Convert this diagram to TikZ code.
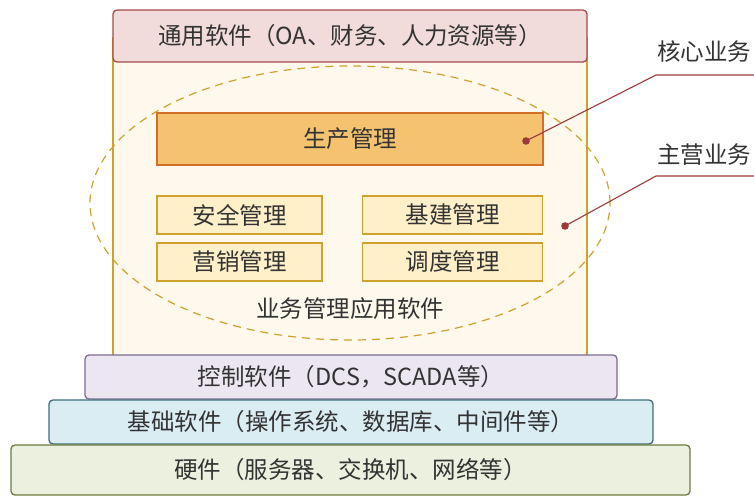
\documentclass[tikz,border=0pt]{standalone}
\usepackage{fontspec}
\setmainfont{Noto Sans CJK SC}
\usetikzlibrary{shapes.geometric}
\definecolor{txt}{HTML}{333333}
\definecolor{topfill}{HTML}{F2DCDB}
\definecolor{topline}{HTML}{A5494B}
\definecolor{bgfill}{HTML}{FEF9EC}
\definecolor{gold}{HTML}{CFA22E}
\definecolor{corefill}{HTML}{F5C370}
\definecolor{coreline}{HTML}{D2702A}
\definecolor{modfill}{HTML}{FFF0C9}
\definecolor{ctlfill}{HTML}{EBE6EF}
\definecolor{ctlline}{HTML}{7F6A93}
\definecolor{basfill}{HTML}{DAEDF3}
\definecolor{basline}{HTML}{3D6C79}
\definecolor{hwfill}{HTML}{EBF1DE}
\definecolor{hwline}{HTML}{6B7B40}
\definecolor{callout}{HTML}{9B3A3A}
\tikzset{
  every node/.style={text=txt, font=\fontsize{23.5}{26}\selectfont},
  layer/.style={draw, line width=1.3pt, rounded corners=4pt, inner sep=0pt},
  module/.style={draw=gold, fill=modfill, line width=1.3pt, inner sep=0pt},
  calloutline/.style={draw=callout, line width=1.1pt},
  calloutdot/.style={fill=callout},
}
\begin{document}
\begin{tikzpicture}[x=1pt, y=-1pt]
\useasboundingbox (0,0) rectangle (754,496);
% application software panel
\node (panel) [draw=gold, fill=bgfill, line width=1.3pt, minimum width=474, minimum height=318, inner sep=0pt] at (350,197) {};
\node (scope) [draw=gold, dashed, dash pattern=on 8pt off 6pt, line width=1.2pt, ellipse, minimum width=520, minimum height=274, inner sep=0pt] at (350,203) {};
% general software
\node (general) [layer, draw=topline, fill=topfill, minimum width=474, minimum height=52] at (350,36) {通用软件（OA、财务、人力资源等）};
% business modules
\node (prod) [draw=coreline, fill=corefill, line width=1.3pt, inner sep=0pt, minimum width=386, minimum height=52] at (350,139) {生产管理};
\node (safe) [module, minimum width=165, minimum height=38] at (239.5,215) {安全管理};
\node (build) [module, minimum width=180, minimum height=38] at (452.5,215) {基建管理};
\node (sales) [module, minimum width=165, minimum height=38] at (239.5,262) {营销管理};
\node (dispatch) [module, minimum width=180, minimum height=38] at (452.5,262) {调度管理};
\node (apps) at (350,309) {业务管理应用软件};
% lower layers
\node (control) [layer, draw=ctlline, fill=ctlfill, minimum width=532, minimum height=44] at (351,377) {控制软件（DCS，SCADA等）};
\node (basic) [layer, draw=basline, fill=basfill, minimum width=604, minimum height=44] at (351,422) {基础软件（操作系统、数据库、中间件等）};
\node (hardware) [layer, draw=hwline, fill=hwfill, minimum width=679, minimum height=50] at (350.5,470) {硬件（服务器、交换机、网络等）};
% callouts
\node (core) [anchor=west, inner sep=0pt] at (657,52) {核心业务};
\node (main) [anchor=west, inner sep=0pt] at (657,155) {主营业务};
\coordinate (coredot) at (526,141);
\coordinate (corebend) at (656,75);
\coordinate (coreend) at (754,75);
\coordinate (maindot) at (565,226);
\coordinate (mainbend) at (656,176);
\coordinate (mainend) at (754,176);
\draw[calloutline] (coredot) -- (corebend) -- (coreend);
\draw[calloutline] (maindot) -- (mainbend) -- (mainend);
\fill[calloutdot] (coredot) circle (3.8);
\fill[calloutdot] (maindot) circle (3.8);
\end{tikzpicture}
\end{document}
